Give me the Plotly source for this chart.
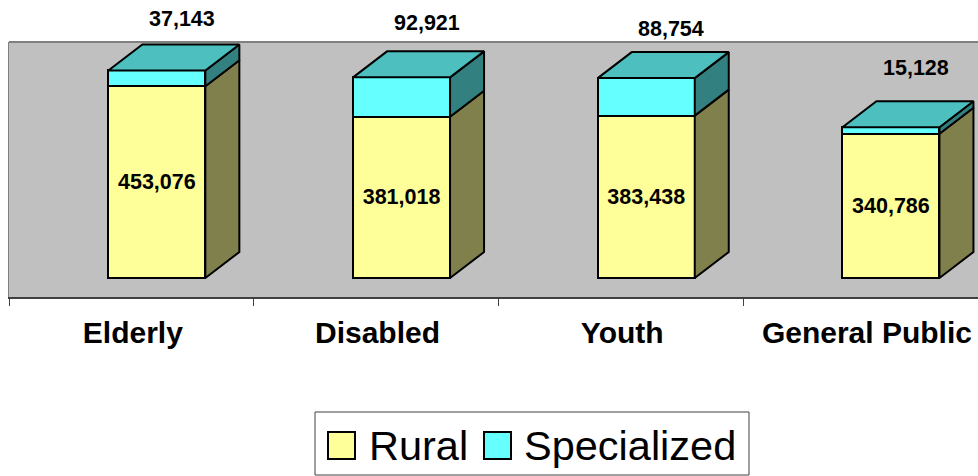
import plotly.graph_objects as go

categories = ["Elderly", "Disabled", "Youth", "General Public"]
rural = [453076, 381018, 383438, 340786]
specialized = [37143, 92921, 88754, 15128]

FONT = "Liberation Sans"
YELLOW = "#FFFF99"
CYAN = "#66FFFF"
YELLOW_SIDE = "#80804D"
CYAN_SIDE = "#338080"
CYAN_TOP = "#4DBFBF"

WIDTH, HEIGHT = 978, 476
LEFT, RIGHT, TOP, BOTTOM = 9, 978, 42, 297
UNITS_PER_PX_X = 1 / 244.7
UNITS_PER_PX_Y = 2362

# fake 3d look: depth of the box in data units
BAR_OFFSET = -23 * UNITS_PER_PX_X
BAR_WIDTH = 97 * UNITS_PER_PX_X
DEPTH_X = 34 * UNITS_PER_PX_X
DEPTH_Y = 26 * UNITS_PER_PX_Y

xs = list(range(len(categories)))
totals = [r + s for r, s in zip(rural, specialized)]


def side_face(low, high):
    px, py = [], []
    for x, lo, hi in zip(xs, low, high):
        right = x + BAR_OFFSET + BAR_WIDTH
        px += [right, right + DEPTH_X, right + DEPTH_X, right, right, None]
        py += [lo, lo + DEPTH_Y, hi + DEPTH_Y, hi, lo, None]
    return px, py


def top_face(level):
    px, py = [], []
    for x, y in zip(xs, level):
        left = x + BAR_OFFSET
        right = left + BAR_WIDTH
        px += [left, left + DEPTH_X, right + DEPTH_X, right, left, None]
        py += [y, y + DEPTH_Y, y + DEPTH_Y, y, y, None]
    return px, py


def face(px, py, color):
    return go.Scatter(
        x=px,
        y=py,
        mode="lines",
        fill="toself",
        fillcolor=color,
        line=dict(color="black", width=2),
        hoverinfo="skip",
        showlegend=False,
        cliponaxis=False,
    )


fig = go.Figure()

fig.add_trace(
    go.Bar(
        x=xs,
        y=rural,
        name="Rural",
        offset=BAR_OFFSET,
        width=BAR_WIDTH,
        marker=dict(color=YELLOW, line=dict(color="black", width=2)),
        text=[f"{v:,}" for v in rural],
        textposition="inside",
        insidetextanchor="middle",
        textangle=0,
        constraintext="none",
        textfont=dict(family=FONT, size=21.5, color="black", weight="bold"),
    )
)
fig.add_trace(
    go.Bar(
        x=xs,
        y=specialized,
        name="Specialized",
        offset=BAR_OFFSET,
        width=BAR_WIDTH,
        marker=dict(color=CYAN, line=dict(color="black", width=2)),
    )
)

fig.add_trace(face(*side_face([0] * len(xs), rural), YELLOW_SIDE))
fig.add_trace(face(*side_face(rural, totals), CYAN_SIDE))
fig.add_trace(face(*top_face(totals), CYAN_TOP))


def paper_x(px):
    return (px - LEFT) / (RIGHT - LEFT)


def paper_y(py):
    return (BOTTOM - py) / (BOTTOM - TOP)


# labels for the top segment float over the box, each at its own height
label_lift = [25, 28, 23, 33]
annotations = [
    dict(
        x=x + BAR_OFFSET + BAR_WIDTH / 2,
        y=t + DEPTH_Y,
        xshift=25,
        yshift=lift,
        text=f"{v:,}",
        showarrow=False,
        font=dict(family=FONT, size=21.5, color="black", weight="bold"),
    )
    for x, t, v, lift in zip(xs, totals, specialized, label_lift)
]

legend_items = [("Rural", YELLOW, 328, 367), ("Specialized", CYAN, 484, 522)]
shapes = [
    dict(
        type="line", xref="paper", yref="paper", x0=0, x1=1, y0=1, y1=1,
        line=dict(color="#808080", width=2),
    ),
    dict(
        type="rect", xref="paper", yref="paper",
        x0=paper_x(315), x1=paper_x(749), y0=paper_y(412), y1=paper_y(475),
        fillcolor="white", line=dict(color="#404040", width=1),
    ),
]
for name, color, swatch_x, text_x in legend_items:
    shapes.append(
        dict(
            type="rect", xref="paper", yref="paper",
            x0=paper_x(swatch_x), x1=paper_x(swatch_x + 27),
            y0=paper_y(432), y1=paper_y(459),
            fillcolor=color, line=dict(color="black", width=2),
        )
    )
    annotations.append(
        dict(
            xref="paper", yref="paper",
            x=paper_x(text_x), y=paper_y(445),
            xanchor="left", yanchor="middle",
            text=name, showarrow=False,
            font=dict(family=FONT, size=41.5, color="black"),
        )
    )

fig.update_layout(
    width=WIDTH,
    height=HEIGHT,
    margin=dict(l=LEFT, r=WIDTH - RIGHT, t=TOP, b=HEIGHT - BOTTOM, autoexpand=False),
    barmode="stack",
    showlegend=False,
    paper_bgcolor="white",
    plot_bgcolor="#C0C0C0",
    shapes=shapes,
    annotations=annotations,
    xaxis=dict(
        range=[-0.5, -0.5 + (RIGHT - LEFT) * UNITS_PER_PX_X],
        tickvals=[x + 0.006 for x in xs],
        ticktext=categories,
        ticks="outside",
        ticklen=8,
        tickcolor="rgba(0,0,0,0)",
        tickfont=dict(family=FONT, size=30, color="black", weight="bold"),
        showgrid=False,
        zeroline=False,
        showline=True,
        linecolor="#404040",
        linewidth=2,
        minor=dict(
            tickvals=[-0.5, 0.5, 1.5, 2.5],
            ticks="outside",
            ticklen=7,
            tickwidth=1,
            tickcolor="#404040",
            showgrid=False,
        ),
    ),
    yaxis=dict(
        range=[-19 * UNITS_PER_PX_Y, 236 * UNITS_PER_PX_Y],
        showticklabels=False,
        ticks="",
        showgrid=False,
        zeroline=False,
        showline=True,
        linecolor="#808080",
        linewidth=1,
    ),
)

fig.write_html(
    "out.html",
    config=dict(displayModeBar=False),
    post_script="document.body.style.margin='0';",
)
